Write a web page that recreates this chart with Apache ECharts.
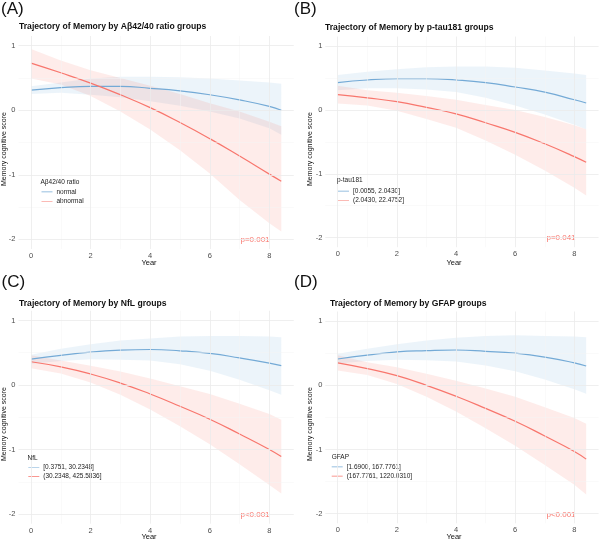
<!DOCTYPE html>
<html><head><meta charset="utf-8">
<script src="https://cdn.jsdelivr.net/npm/echarts@6/dist/echarts.min.js"></script>
<style>html,body{margin:0;padding:0;background:#fff}#c{width:600px;height:542px}</style>
</head><body><div id="c"></div>
<script>
// ---- data ----
const years = [0, 1, 2, 3, 4, 5, 6, 7, 8, 8.4];
const xTickLabels = [0, 2, 4, 6, 8];
const xMinorGrid = [1, 3, 5, 7];
const yTickLabels = [-2, -1, 0, 1];
const yMinorGrid = [-1.5, -0.5, 0.5];

// Panel A: Aβ42/40 ratio
const blueA   = [0.31, 0.35, 0.37, 0.37, 0.34, 0.30, 0.24, 0.16, 0.06, 0.00];
const blueALo = [0.25, 0.27, 0.24, 0.20, 0.14, 0.07, -0.02, -0.13, -0.28, -0.38];
const blueAHi = [0.37, 0.43, 0.49, 0.52, 0.52, 0.51, 0.49, 0.46, 0.43, 0.41];
const redA    = [0.73, 0.58, 0.42, 0.24, 0.04, -0.19, -0.44, -0.71, -0.99, -1.10];
const redALo  = [0.49, 0.40, 0.22, -0.02, -0.30, -0.62, -0.98, -1.39, -1.75, -1.88];
const redAHi  = [0.95, 0.77, 0.62, 0.50, 0.38, 0.25, 0.11, -0.02, -0.18, -0.25];
// Panel B: p-tau181
const blueB   = [0.43, 0.47, 0.49, 0.49, 0.47, 0.43, 0.36, 0.28, 0.16, 0.11];
const blueBLo = [0.31, 0.34, 0.34, 0.32, 0.28, 0.19, 0.07, -0.07, -0.23, -0.30];
const blueBHi = [0.55, 0.60, 0.64, 0.67, 0.68, 0.68, 0.66, 0.62, 0.57, 0.55];
const redB    = [0.24, 0.19, 0.13, 0.04, -0.06, -0.20, -0.35, -0.53, -0.73, -0.82];
const redBLo  = [0.10, 0.07, -0.01, -0.14, -0.28, -0.48, -0.70, -0.95, -1.22, -1.34];
const redBHi  = [0.38, 0.31, 0.27, 0.22, 0.16, 0.08, 0.00, -0.11, -0.24, -0.30];
// Panel C: NfL
const blueC   = [0.40, 0.46, 0.51, 0.54, 0.55, 0.53, 0.49, 0.42, 0.34, 0.30];
const blueCLo = [0.33, 0.37, 0.40, 0.39, 0.38, 0.32, 0.22, 0.08, -0.08, -0.15];
const blueCHi = [0.47, 0.56, 0.63, 0.69, 0.72, 0.75, 0.76, 0.76, 0.75, 0.74];
const redC    = [0.36, 0.28, 0.17, 0.03, -0.14, -0.33, -0.53, -0.76, -1.00, -1.11];
const redCLo  = [0.26, 0.18, 0.04, -0.15, -0.38, -0.64, -0.92, -1.23, -1.55, -1.68];
const redCHi  = [0.46, 0.38, 0.30, 0.21, 0.10, -0.02, -0.14, -0.29, -0.45, -0.54];
// Panel D: GFAP
const blueD   = [0.41, 0.47, 0.52, 0.54, 0.55, 0.53, 0.50, 0.44, 0.35, 0.30];
const blueDLo = [0.34, 0.38, 0.40, 0.39, 0.37, 0.31, 0.22, 0.09, -0.06, -0.13];
const blueDHi = [0.49, 0.57, 0.64, 0.70, 0.74, 0.77, 0.78, 0.77, 0.76, 0.75];
const redD    = [0.35, 0.26, 0.15, 0.00, -0.17, -0.36, -0.56, -0.79, -1.03, -1.15];
const redDLo  = [0.23, 0.16, 0.02, -0.18, -0.41, -0.67, -0.94, -1.24, -1.55, -1.70];
const redDHi  = [0.47, 0.36, 0.28, 0.18, 0.07, -0.05, -0.18, -0.34, -0.51, -0.60];

const letters = ['(A)', '(B)', '(C)', '(D)'];
const titles = [
  'Trajectory of Memory by Aβ42/40 ratio groups',
  'Trajectory of Memory by p-tau181 groups',
  'Trajectory of Memory by NfL groups',
  'Trajectory of Memory by GFAP groups'
];
const legendTitles = ['Aβ42/40 ratio', 'p-tau181', 'NfL', 'GFAP'];
const groupNames = [
  ['normal', 'abnormal'],
  ['[0.0055, 2.0430]', '(2.0430, 22.4752]'],
  ['[0.3751, 30.2348]', '(30.2348, 425.5836]'],
  ['[1.6900, 167.7761]', '(167.7761, 1220.0310]']
];
const pValues = ['p=0.001', 'p=0.041', 'p<0.001', 'p<0.001'];
const yTitle = 'Memory cognitive score';
const xTitle = 'Year';

// ---- layout & style ----
const FONT = '"Liberation Sans", Arial, Helvetica, sans-serif';
const BLUE = '#74AAD6', RED = '#F8766D';
const BLUE_FILL = 'rgba(107,168,214,0.13)', RED_FILL = 'rgba(248,118,109,0.14)';
const LEGEND_ICON = 'path://M0,0h0.01v0.01h-0.01zM0,4.35h20v1.3h-20zM19.99,9.99h0.01v0.01h-0.01z';
const layouts = [
  {grid:{left:18.5, top:36, width:275.3, height:213}, letter:[1,1], title:[19,22.5], lt:[40.5,179], lg:[41.5,188.3,2.7], p:[255,239.3], yn:[4.5,149], xn:[149,263.3]},
  {grid:{left:325.3, top:36.6, width:273.3, height:210.6}, letter:[294,1], title:[325,23.5], lt:[337,177], lg:[338,187.7,2.3], p:[561,237.7], yn:[310.5,149], xn:[454,263]},
  {grid:{left:18.5, top:310.8, width:275.3, height:212.9}, letter:[1.5,274], title:[19,299], lt:[27.5,454.5], lg:[28.3,464,1.8], p:[255,515], yn:[4.5,424], xn:[149,536.7]},
  {grid:{left:325.3, top:311.5, width:273.3, height:211.8}, letter:[294,274], title:[330,299], lt:[331.7,453.5], lg:[331.7,463.3,2.4], p:[561,514.3], yn:[310.5,424], xn:[454,537]}
];
const panelData = [
  [blueA, blueALo, blueAHi, redA, redALo, redAHi],
  [blueB, blueBLo, blueBHi, redB, redBLo, redBHi],
  [blueC, blueCLo, blueCHi, redC, redCLo, redCHi],
  [blueD, blueDLo, blueDHi, redD, redDLo, redDHi]
];

const pts = arr => years.map((x, i) => [x, arr[i]]);

const grid = [], xAxis = [], yAxis = [], series = [], legend = [], title = [], graphic = [];
layouts.forEach((L, k) => {
  grid.push(L.grid);
  xAxis.push({type:'value', gridIndex:k, min:-0.42, max:8.82,
    axisLine:{show:false}, axisTick:{show:false}, splitLine:{show:false},
    axisLabel:{customValues:xTickLabels, margin:3, fontSize:7.5, color:'#4D4D4D', fontFamily:FONT}});
  yAxis.push({type:'value', gridIndex:k, min:-2.15, max:1.15,
    axisLine:{show:false}, axisTick:{show:false}, splitLine:{show:false},
    axisLabel:{customValues:yTickLabels, margin:3, fontSize:7.5, color:'#4D4D4D', fontFamily:FONT}});
  const [b, bLo, bHi, r, rLo, rHi] = panelData[k];
  const major = {color:'#EBEBEB', width:0.8, type:'solid'};
  const minor = {color:'#F4F4F4', width:0.5, type:'solid'};
  series.push({type:'line', xAxisIndex:k, yAxisIndex:k, data:[], z:0, silent:true,
    markLine:{silent:true, symbol:['none','none'], animation:false, label:{show:false},
      data:[
        ...xMinorGrid.map(v => ({xAxis:v, lineStyle:minor})),
        ...yMinorGrid.map(v => ({yAxis:v, lineStyle:minor})),
        ...xTickLabels.map(v => ({xAxis:v, lineStyle:major})),
        ...yTickLabels.map(v => ({yAxis:v, lineStyle:major}))
      ]}});
  const band = (lo, hi, fill) => {
    series.push({type:'custom', xAxisIndex:k, yAxisIndex:k, silent:true, z:1,
      data: years.map((x, i) => [x, lo[i], hi[i]]),
      encode:{x:0, y:[1, 2]},
      renderItem:(params, api) => {
        if (params.dataIndex !== 0) return null;
        const up = years.map((x, i) => api.coord([x, hi[i]]));
        const dn = years.map((x, i) => api.coord([x, lo[i]])).reverse();
        return {type:'polygon', shape:{points:up.concat(dn)}, style:{fill:fill}};
      }});
  };
  band(bLo, bHi, BLUE_FILL);
  band(rLo, rHi, RED_FILL);
  series.push({type:'line', name:groupNames[k][0], xAxisIndex:k, yAxisIndex:k, data:pts(b), smooth:true,
    showSymbol:false, symbol:'none', color:BLUE, lineStyle:{color:BLUE, width:1.2}, z:3});
  series.push({type:'line', name:groupNames[k][1], xAxisIndex:k, yAxisIndex:k, data:pts(r), smooth:true,
    showSymbol:false, symbol:'none', color:RED, lineStyle:{color:RED, width:1.2}, z:3});

  legend.push({data:groupNames[k].map(n => ({name:n, icon:LEGEND_ICON})), left:L.lg[0], top:L.lg[1],
    orient:'vertical', itemWidth:11, itemHeight:10, itemGap:L.lg[2], padding:0, selectedMode:false,
    textStyle:{fontSize:6.5, color:'#222', fontFamily:FONT, padding:[0,0,0,-1]}});

  title.push({text:letters[k], left:L.letter[0], top:L.letter[1], padding:0,
    textStyle:{fontSize:17, fontWeight:'normal', color:'#111', fontFamily:FONT}});
  title.push({text:titles[k], left:L.title[0], top:L.title[1], padding:0,
    textStyle:{fontSize:8.6, fontWeight:'bold', color:'#111', fontFamily:FONT}});
  title.push({text:legendTitles[k], left:L.lt[0], top:L.lt[1], padding:0,
    textStyle:{fontSize:6.5, fontWeight:'normal', color:'#222', fontFamily:FONT}});

  graphic.push({type:'text', x:L.p[0], y:L.p[1], silent:true,
    style:{text:pValues[k], fill:RED, font:'8px '+FONT, textAlign:'center', textVerticalAlign:'middle'}});
  graphic.push({type:'text', x:L.xn[0], y:L.xn[1], silent:true,
    style:{text:xTitle, fill:'#111', font:'7.5px '+FONT, textAlign:'center', textVerticalAlign:'middle'}});
  graphic.push({type:'text', x:L.yn[0], y:L.yn[1], rotation:Math.PI/2, silent:true,
    style:{text:yTitle, fill:'#111', font:'7px '+FONT, textAlign:'center', textVerticalAlign:'middle'}});
});

const chart = echarts.init(document.getElementById('c'), null, {renderer:'canvas'});
chart.setOption({animation:false, backgroundColor:'#fff', grid, xAxis, yAxis, series, legend, title, graphic});
</script></body></html>
